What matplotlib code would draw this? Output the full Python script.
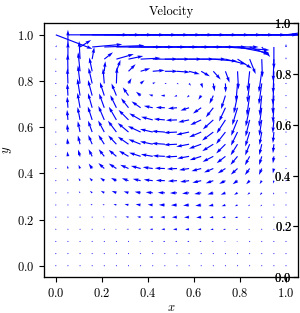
import matplotlib
matplotlib.use("Agg")
import matplotlib.pyplot as plt
import numpy as np

plt.rcParams['font.family'] = 'serif'
plt.rcParams['font.serif'] = ['cmr10']
plt.rcParams['mathtext.fontset'] = 'cm'
plt.rcParams['axes.formatter.use_mathtext'] = True
plt.rcParams['font.size'] = 9

# 20 x 20 grid of the cavity
xs = np.linspace(0, 1, 20)
ys = np.linspace(0, 1, 20)

# arrow length (screen pixels), rows from the lid (y=1) down to y=0
speed_rows = [
    [39, 60, 60, 60, 60, 60, 60, 60, 60, 60, 60, 60, 60, 60, 60, 60, 60, 60, 60, 20],
    [2, 17, 13, 30, 40, 45, 45, 45, 45, 45, 45, 45, 45, 45, 44, 32, 21, 13, 22, 3],
    [1, 17, 18, 12, 11, 18, 15, 20, 25, 25, 25, 25, 25, 24, 21, 17, 16, 18, 22, 2],
    [0.5, 17, 19, 14, 10, 12, 10, 10, 12, 13, 13, 11, 10, 11, 12, 18, 20, 21, 22, 1],
    [0, 15, 18, 16, 15, 16, 6, 5, 3, 2, 2, 3, 5, 8, 9, 18, 19, 21, 21, 0.5],
    [0, 12, 17, 16, 14, 13, 10, 6, 4, 4, 3, 3, 5, 9, 14, 18, 20, 20, 18, 0.5],
    [0, 11, 15, 15, 15, 14, 12, 11, 9, 9, 9, 9, 10, 12, 15, 18, 19, 19, 15, 0.5],
    [0, 10, 13, 14, 15, 15, 14, 13, 12, 11, 11, 11, 12, 14, 16, 17, 17, 16, 13, 0.5],
    [0, 8, 11, 12, 13, 14, 14, 14, 13, 13, 13, 13, 13, 14, 15, 15, 15, 13, 11, 0.5],
    [0, 6, 9, 10, 11, 12, 13, 13, 13, 13, 13, 13, 13, 13, 13, 13, 12, 11, 9, 0.5],
    [0, 5, 7, 8, 9, 10, 11, 12, 12, 12, 12, 12, 12, 12, 11, 11, 10, 9, 7, 0],
    [0, 3, 4, 6, 8, 9, 9, 10, 10, 10, 10, 10, 10, 10, 9, 9, 8, 7, 5, 0],
    [0, 2, 3, 4, 5, 6, 7, 8, 9, 9, 9, 9, 9, 8, 7, 6, 5, 4, 3, 0],
    [0, 1, 2, 3, 4, 5, 5, 6, 7, 7, 7, 7, 7, 6, 5, 4, 3, 3, 2, 0],
    [0, 0.5, 1, 2, 2, 3, 4, 5, 5, 6, 6, 6, 6, 5, 4, 3, 2, 2, 1, 0],
    [0, 0.3, 0.5, 1, 1.5, 2, 3, 3.5, 4, 4.5, 5, 5, 5, 4, 3.5, 3, 2, 1, 0.5, 0],
    [0, 0, 0.3, 0.5, 1, 1.5, 2, 2.5, 3, 3.5, 4, 4, 3.5, 3, 2.5, 2, 1.5, 1, 0.5, 0],
    [0, 0, 0, 0.3, 0.5, 0.8, 1, 1.5, 1.8, 2, 2, 2, 2, 1.8, 1.5, 1.2, 0.8, 0.5, 0.3, 0],
    [0, 0, 0, 0, 0.1, 0.2, 0.3, 0.4, 0.5, 0.5, 0.5, 0.5, 0.5, 0.5, 0.4, 0.3, 0.3, 0.2, 0.1, 0],
    [0] * 20,
]

# arrow direction in degrees (0 = right, 90 = up), same row order
angle_rows = [
    [-21, 0, 0, 0, 0, 0, 0, 0, 0, 0, 0, 0, 0, 0, 0, 0, 0, 0, 0, 8],
    [60, 90, 32, 5, 2, 0, 0, 0, 0, 0, 0, 0, 0, 0, -4, -11, -22, -50, 270, 90],
    [90, 90, 93, 80, 38, 16, 12, 3, 0, 0, 0, 0, 0, -5, -14, -33, -68, -88, -92, 90],
    [90, 91, 96, 102, 84, 70, 45, 17, 5, 0, -4, -15, -30, -48, -70, -87, -96, -98, -92, 90],
    [0, 92, 97, 103, 95, 88, 60, 40, 20, 0, -20, -50, -70, -80, -88, -95, -97, -98, -93, 0],
    [0, 93, 99, 105, 108, 112, 125, 140, 165, 180, 200, 220, 235, 245, 252, 258, 262, 264, 266, 0],
    [0, 94, 100, 106, 110, 116, 128, 145, 168, 178, 185, 198, 215, 232, 245, 253, 258, 262, 266, 0],
    [0, 95, 101, 108, 113, 120, 135, 150, 165, 175, 182, 192, 205, 222, 237, 248, 256, 261, 265, 0],
    [0, 96, 102, 110, 118, 127, 140, 155, 167, 176, 183, 192, 203, 217, 232, 244, 253, 260, 265, 0],
    [0, 97, 104, 113, 122, 133, 145, 158, 168, 176, 183, 191, 200, 212, 225, 238, 248, 257, 264, 0],
    [0, 98, 107, 117, 128, 140, 150, 162, 170, 177, 183, 190, 198, 207, 218, 230, 242, 253, 262, 0],
    [0, 100, 112, 125, 137, 147, 156, 165, 172, 178, 183, 189, 195, 203, 212, 222, 234, 246, 258, 0],
    [0, 105, 120, 133, 145, 153, 160, 167, 173, 178, 183, 188, 193, 199, 207, 216, 226, 238, 252, 0],
    [0, 110, 128, 140, 150, 158, 164, 170, 175, 178, 182, 186, 190, 195, 202, 210, 220, 232, 245, 0],
    [0, 120, 135, 148, 155, 162, 167, 172, 176, 179, 182, 185, 188, 192, 198, 205, 215, 225, 240, 0],
    [0, 130, 145, 155, 162, 168, 172, 175, 178, 180, 181, 183, 185, 188, 192, 197, 205, 215, 230, 0],
    [0, 0, 150, 160, 165, 170, 174, 177, 179, 180, 181, 182, 183, 186, 190, 195, 200, 210, 220, 0],
    [0, 0, 0, 170, 172, 175, 177, 178, 179, 180, 180, 181, 182, 183, 185, 188, 192, 198, 205, 0],
    [180] * 20,
    [0] * 20,
]

ticks = [0.0, 0.2, 0.4, 0.6, 0.8, 1.0]

X, Y = np.meshgrid(xs, ys)
speed = np.array(speed_rows, dtype=float)[::-1]
ang = np.deg2rad(np.array(angle_rows, dtype=float)[::-1])
U = speed * np.cos(ang)
V = speed * np.sin(ang)

fig = plt.figure(figsize=(3.0, 3.13), dpi=100)
ax = fig.add_axes([0.1477, 0.1141, 0.844, 0.8115])

# U, V are in pixels; 229 px per data unit
ax.quiver(X, Y, U, V, color='b', angles='xy', scale_units='xy', scale=229,
          width=0.0045)

ax.set_xlim(-0.05, 1.05)
ax.set_ylim(-0.05, 1.05)
ax.set_xticks(ticks)
ax.set_yticks(ticks)
ax.set_xlabel('$x$', labelpad=1)
ax.set_ylabel('$y$', labelpad=2)
ax.set_title('Velocity', fontsize=9)

# the stray right-hand axis, labels sitting inside the frame
for k in range(2):
    ax2 = ax.twinx()
    ax2.set_ylim(0, 1)
    ax2.set_yticks(ticks)
    ax2.tick_params(axis='y', direction='in', pad=-4)
    plt.setp(ax2.get_yticklabels(), ha='right')

fig.savefig('out.png', dpi=100)
